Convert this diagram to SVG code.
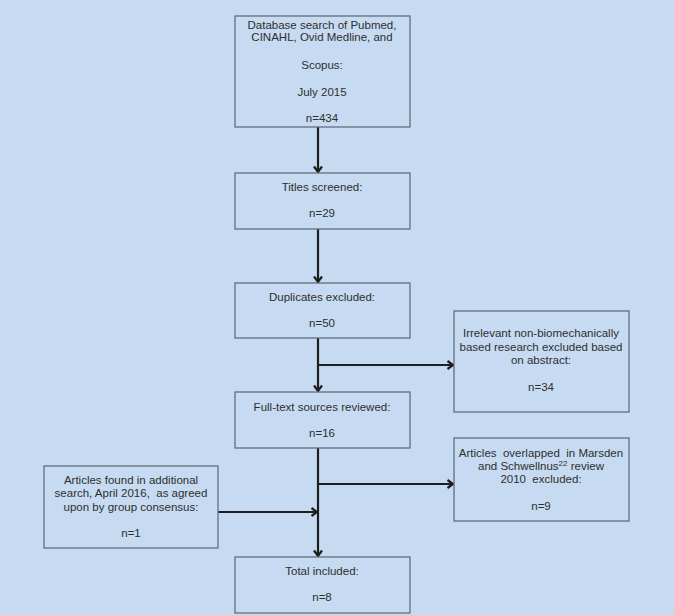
<svg xmlns="http://www.w3.org/2000/svg" width="674" height="615" viewBox="0 0 674 615">
<style>
.box{fill:#c6dbf1;stroke:#5a6470;stroke-width:1.2}
.t{font-family:"Liberation Sans",Arial,sans-serif;font-size:11.5px;fill:#2e2e2e;text-anchor:middle}
.c{stroke:#1e1e1e;stroke-width:2.2;fill:none}
</style>
<defs>
<marker id="ah" markerWidth="10" markerHeight="10" refX="7" refY="5" orient="auto" markerUnits="userSpaceOnUse">
<path d="M1.5,1 L7,5 L1.5,9" fill="none" stroke="#1e1e1e" stroke-width="2.2"/>
</marker>
</defs>
<rect width="674" height="615" fill="#c6dbf1"/>
<g id="connectors">
<line class="c" x1="318" y1="127" x2="318" y2="172" marker-end="url(#ah)"/>
<line class="c" x1="318" y1="229" x2="318" y2="282" marker-end="url(#ah)"/>
<line class="c" x1="318" y1="338" x2="318" y2="391" marker-end="url(#ah)"/>
<line class="c" x1="317" y1="365" x2="453" y2="365" marker-end="url(#ah)"/>
<line class="c" x1="318" y1="448" x2="318" y2="556" marker-end="url(#ah)"/>
<line class="c" x1="317" y1="484" x2="453" y2="484" marker-end="url(#ah)"/>
<line class="c" x1="218" y1="512" x2="317" y2="512" marker-end="url(#ah)"/>
</g>
<g id="n1">
<rect class="box" x="235" y="16" width="175" height="111"/>
<text class="t" x="322" y="29">Database search of Pubmed,</text>
<text class="t" x="322" y="41">CINAHL, Ovid Medline, and</text>
<text class="t" x="322" y="69">Scopus:</text>
<text class="t" x="322" y="96">July 2015</text>
<text class="t" x="322" y="122">n=434</text>
</g>
<g id="n2">
<rect class="box" x="235" y="173" width="175" height="56"/>
<text class="t" x="322" y="191">Titles screened:</text>
<text class="t" x="322" y="217">n=29</text>
</g>
<g id="n3">
<rect class="box" x="235" y="283" width="175" height="55"/>
<text class="t" x="322" y="301">Duplicates excluded:</text>
<text class="t" x="322" y="327">n=50</text>
</g>
<g id="n4">
<rect class="box" x="454" y="311" width="175" height="101"/>
<text class="t" x="541" y="337">Irrelevant non-biomechanically</text>
<text class="t" x="541" y="351">based research excluded based</text>
<text class="t" x="541" y="364">on abstract:</text>
<text class="t" x="541" y="391">n=34</text>
</g>
<g id="n5">
<rect class="box" x="235" y="392" width="175" height="56"/>
<text class="t" x="322" y="411">Full-text sources reviewed:</text>
<text class="t" x="322" y="437">n=16</text>
</g>
<g id="n6">
<rect class="box" x="454" y="438" width="175" height="83"/>
<text class="t" x="541" y="457" xml:space="preserve">Articles  overlapped  in Marsden</text>
<text class="t" x="541" y="470">and Schwellnus<tspan font-size="8" dy="-4">22</tspan><tspan dy="4"> review</tspan></text>
<text class="t" x="541" y="483" xml:space="preserve">2010  excluded:</text>
<text class="t" x="541" y="510">n=9</text>
</g>
<g id="n7">
<rect class="box" x="44" y="466" width="174" height="82"/>
<text class="t" x="131" y="484">Articles found in additional</text>
<text class="t" x="131" y="497" xml:space="preserve">search, April 2016,  as agreed</text>
<text class="t" x="131" y="511">upon by group consensus:</text>
<text class="t" x="131" y="537">n=1</text>
</g>
<g id="n8">
<rect class="box" x="235" y="557" width="175" height="56"/>
<text class="t" x="322" y="575">Total included:</text>
<text class="t" x="322" y="601">n=8</text>
</g>
</svg>
